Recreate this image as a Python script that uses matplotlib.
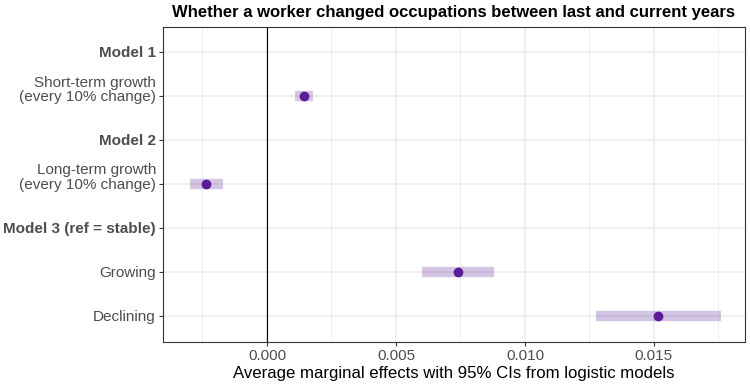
import matplotlib
matplotlib.use("Agg")
import matplotlib.pyplot as plt
import matplotlib.transforms as mtransforms
import numpy as np

plt.rcParams['font.family'] = ['Liberation Sans', 'DejaVu Sans']

labels = ["Model 1", "Short-term growth\n(every 10% change)", "Model 2",
          "Long-term growth\n(every 10% change)", "Model 3 (ref = stable)",
          "Growing", "Declining"]
is_header = [True, False, True, False, True, False, False]
estimates = [np.nan, 0.00145, np.nan, -0.00236, np.nan, 0.0074, 0.01517]
ci_low = [np.nan, 0.0011, np.nan, -0.00298, np.nan, 0.0060, 0.01275]
ci_high = [np.nan, 0.0018, np.nan, -0.00172, np.nan, 0.0088, 0.0176]
xticks = [0.0, 0.005, 0.010, 0.015]
xticklabels = ["0.000", "0.005", "0.010", "0.015"]

fig = plt.figure(figsize=(7.5, 3.84), dpi=100)
ax = fig.add_axes([163/750, 1-342/384, (745-163)/750, (342-27)/384])

y = np.arange(len(labels))
for yi, lo, hi, est in zip(y, ci_low, ci_high, estimates):
    if np.isnan(est):
        continue
    ax.plot([lo, hi], [yi, yi], color="#5B1A99", alpha=0.25, lw=7.5,
            solid_capstyle="butt", zorder=3)
    ax.plot(est, yi, "o", color="#5B1A99", ms=6, zorder=4)

ax.axvline(0, color="black", lw=0.8, zorder=2)
ax.set_xlim(-0.00403, 0.01853)
ax.set_ylim(len(labels) - 1 + 0.6, -0.58)
ax.set_yticks(y)
ax.set_yticklabels([])
blend = mtransforms.blended_transform_factory(ax.transAxes, ax.transData)
for yi, h, lab in zip(y, is_header, labels):
    multi = "\n" in lab
    dy = 6.5 / 100 if multi else -1 / 100
    tr = blend + mtransforms.ScaledTranslation(-7 / 100, dy, fig.dpi_scale_trans)
    ax.text(0, yi, lab, transform=tr, ha="right", va="center",
            multialignment="right", linespacing=1.05, fontsize=11,
            fontweight="bold" if h else "normal", color="#4D4D4D")
ax.set_xticks(xticks)
ax.set_xticklabels(xticklabels, fontsize=11, color="#4D4D4D")
ax.set_xticks([-0.0025, 0.0025, 0.0075, 0.0125, 0.0175], minor=True)
ax.grid(True, which="major", color="#EBEBEB", lw=1.1, zorder=0)
ax.grid(True, which="minor", axis="x", color="#EBEBEB", lw=0.6, zorder=0)
ax.set_axisbelow(True)
ax.tick_params(axis="both", which="major", length=3, color="#333333", pad=2)
ax.tick_params(axis="x", which="minor", length=0)
for s in ax.spines.values():
    s.set_color("#333333")
    s.set_linewidth(0.8)

ax.set_xlabel("Average marginal effects with 95% CIs from logistic models",
              fontsize=12.1, color="black", labelpad=2)
ax.set_title("Whether a worker changed occupations between last and current years",
             fontsize=12, fontweight="bold", pad=7)

fig.savefig("out.png", dpi=100)
